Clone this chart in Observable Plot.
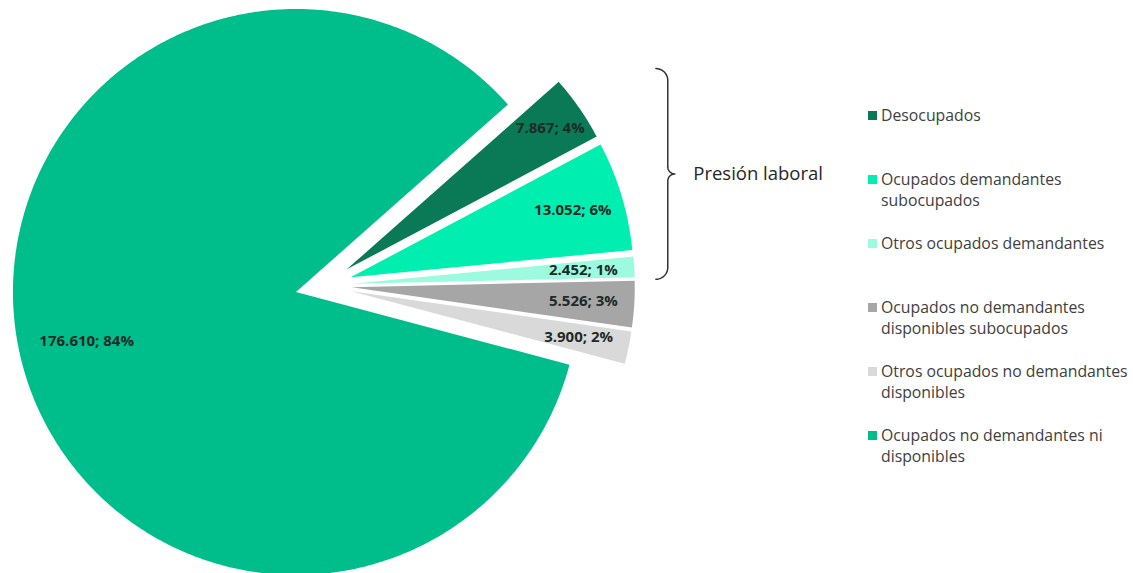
<!DOCTYPE html>
<html><head><meta charset="utf-8">
<script src="https://cdn.jsdelivr.net/npm/d3@7"></script>
<script src="https://cdn.jsdelivr.net/npm/@observablehq/plot@0.6"></script>
<style>
body{margin:0;background:#fff;font-family:"Open Sans",sans-serif;}
#wrap{position:relative;width:1133px;height:573px;overflow:hidden;}
#legend{position:absolute;left:868px;top:105px;}
.item{display:flex;align-items:flex-start;height:64px;}
.sw{width:9px;height:9px;margin-top:6px;margin-right:4px;flex:none;}
.lab{font-size:15.8px;line-height:21px;color:#404040;white-space:pre;}
</style></head><body><div id="wrap"></div>
<script>
// ---- data ----
const categories = [
  "Desocupados",
  "Ocupados demandantes subocupados",
  "Otros ocupados demandantes",
  "Ocupados no demandantes disponibles subocupados",
  "Otros ocupados no demandantes disponibles",
  "Ocupados no demandantes ni disponibles"
];
const values = [7867, 13052, 2452, 5526, 3900, 176610];
const legendLabels = [
  "Desocupados",
  "Ocupados demandantes\nsubocupados",
  "Otros ocupados demandantes",
  "Ocupados no demandantes\ndisponibles subocupados",
  "Otros ocupados no demandantes\ndisponibles",
  "Ocupados no demandantes ni\ndisponibles"
];
const colors = ["#0a7a56", "#00efb0", "#9cfbdf", "#a6a6a6", "#d9d9d9", "#00bd8c"];
const groupSize = 3; // "Presión laboral" = first three categories
const groupLabel = "Presión laboral";

// ---- geometry in data units (radius = 1) ----
const startDeg = 48.5, explode = 0.1;
const total = d3.sum(values);
const loc = d3.formatLocale({decimal: ",", thousands: ".", grouping: [3], currency: ["", "€"]});
const fmt = loc.format(",");
const rad = d => d * Math.PI / 180;
let acc = rad(startDeg);
const slicePts = [], labelData = [];
values.forEach((v, i) => {
  const a0 = acc, a1 = acc + v / total * 2 * Math.PI; acc = a1;
  const mid = (a0 + a1) / 2;
  const ox = explode * Math.sin(mid), oy = explode * Math.cos(mid);
  slicePts.push({cat: categories[i], x: ox, y: oy});
  const n = Math.max(4, Math.ceil((a1 - a0) / rad(0.5)));
  for (let k = 0; k <= n; k++) {
    const a = a0 + (a1 - a0) * k / n;
    slicePts.push({cat: categories[i], x: ox + Math.sin(a), y: oy + Math.cos(a)});
  }
  const lr = i === 0 ? 0.875 : (i === values.length - 1 ? 0.76 : 0.82);
  labelData.push({x: ox + lr * Math.sin(mid), y: oy + lr * Math.cos(mid),
    text: `${fmt(values[i])}; ${Math.round(v / total * 100)}%`});
});

// brace around the first group
const grp = slicePts.filter(d => categories.indexOf(d.cat) < groupSize);
const x0 = d3.max(grp, d => d.x) + 0.117;
const yTop = d3.max(grp, d => d.y) + 0.047;
const yBot = d3.min(grp, d => d.y) + 0.016;
const yMid = (yTop + yBot) / 2;
const r = 0.042, t = 0.025;
const brace = [];
const arc = (cx, cy, from, to, rr) => {
  for (let k = 0; k <= 12; k++) {
    const a = rad(from + (to - from) * k / 12);
    brace.push({x: cx + rr * Math.cos(a), y: cy + rr * Math.sin(a)});
  }
};
arc(x0 - r, yTop - r, 90, 0, r);
arc(x0 + t, yMid + t, 180, 270, t);
arc(x0 + t, yMid - t, 90, 180, t);
arc(x0 - r, yBot + r, 0, -90, r);

// ---- scales: equal px per unit ----
const W = 1133, H = 573, R = 283, cx = 323, cy = 285;
const chart = Plot.plot({
  width: W, height: H, margin: 0,
  x: {domain: [-cx / R, (W - cx) / R], axis: null},
  y: {domain: [-(H - cy) / R, cy / R], axis: null},
  color: {domain: categories, range: colors},
  style: {fontFamily: "Open Sans, sans-serif", background: "#fff"},
  marks: [
    Plot.line(slicePts, {x: "x", y: "y", z: "cat", fill: "cat", stroke: null, curve: "linear-closed"}),
    Plot.text(labelData, {x: "x", y: "y", text: "text", fontWeight: "bold", fontSize: 15, fill: "#1e2a26"}),
    Plot.line(brace, {x: "x", y: "y", stroke: "#333", strokeWidth: 1.5, curve: "linear"}),
    Plot.text([groupLabel], {x: x0 + 0.09, y: yMid, text: d => d, textAnchor: "start", fontSize: 18.5, fill: "#262626"})
  ]
});
const wrap = document.getElementById("wrap");
wrap.appendChild(chart);
const leg = document.createElement("div"); leg.id = "legend";
categories.forEach((c, i) => {
  const it = document.createElement("div"); it.className = "item";
  const sw = document.createElement("div"); sw.className = "sw"; sw.style.background = colors[i];
  const lb = document.createElement("div"); lb.className = "lab"; lb.textContent = legendLabels[i];
  it.appendChild(sw); it.appendChild(lb); leg.appendChild(it);
});
wrap.appendChild(leg);
</script></body></html>
